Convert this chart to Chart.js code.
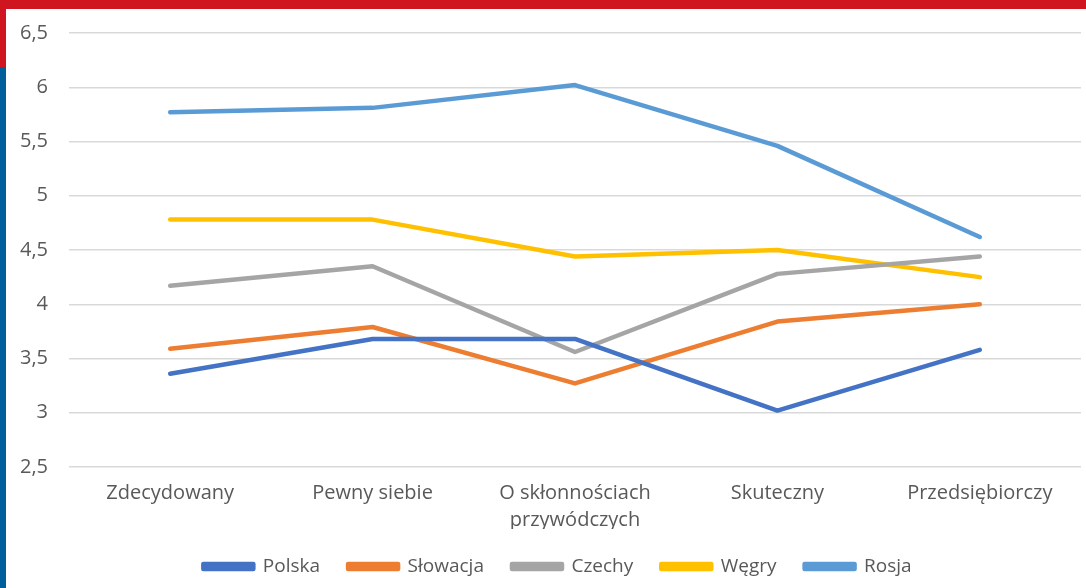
<!DOCTYPE html>
<html><head><meta charset="utf-8">
<script src="https://cdn.jsdelivr.net/npm/chart.js@4/dist/chart.umd.min.js"></script>
<style>
html,body{margin:0;padding:0;background:#fff;}
#wrap{position:relative;width:1086px;height:588px;overflow:hidden;}
#topbar{position:absolute;left:0;top:0;width:1086px;height:9px;background:#cf1520;}
#leftred{position:absolute;left:0;top:0;width:6px;height:67px;background:#cf1520;}
#leftblue{position:absolute;left:0;top:67px;width:6px;height:521px;background:#005f9b;}
canvas{position:absolute;left:0;top:0;}
</style></head>
<body><div id="wrap">
<canvas id="c" width="1086" height="588"></canvas>
<div id="topbar"></div><div id="leftred"></div><div id="leftblue"></div>
</div>
<script>
const categories = ["Zdecydowany", "Pewny siebie", ["O skłonnościach", "przywódczych"], "Skuteczny", "Przedsiębiorczy"];
const seriesNames = ["Polska", "Słowacja", "Czechy", "Węgry", "Rosja"];
const polska   = [3.36, 3.68, 3.68, 3.02, 3.58];
const slowacja = [3.59, 3.79, 3.27, 3.84, 4.00];
const czechy   = [4.17, 4.35, 3.56, 4.28, 4.44];
const wegry    = [4.78, 4.78, 4.44, 4.50, 4.25];
const rosja    = [5.77, 5.81, 6.02, 5.46, 4.62];
const colors = ["#4472C4", "#ED7D31", "#A5A5A5", "#FFC000", "#5B9BD5"];
const yMin = 2.5, yMax = 6.5, yStep = 0.5;

const allData = [polska, slowacja, czechy, wegry, rosja];
const datasets = allData.map((d, i) => ({
  label: seriesNames[i], data: d,
  borderColor: colors[i], backgroundColor: colors[i],
  borderWidth: 4.5, pointRadius: 0, tension: 0,
  borderCapStyle: 'round', borderJoinStyle: 'round'
}));

const shiftLegend = {
  id: 'shiftLegend',
  afterLayout(chart) { if (chart.legend) { chart.legend.left += 17; chart.legend.right += 17; } }
};

new Chart(document.getElementById('c'), {
  type: 'line',
  data: { labels: categories, datasets },
  plugins: [shiftLegend],
  options: {
    responsive: false, animation: false,
    layout: { padding: { top: 31, right: 5, bottom: 2, left: 0 } },
    scales: {
      x: {
        offset: true,
        afterFit: s => { s.height = 62; },
        grid: { display: false, drawTicks: false },
        border: { display: false },
        ticks: { color: '#595959', font: { family: 'Open Sans', size: 20, lineHeight: 1.35 }, padding: 13, maxRotation: 0, autoSkip: false }
      },
      y: {
        min: yMin, max: yMax,
        afterFit: s => { s.width = 69; },
        grid: { color: '#d9d9d9', lineWidth: 1.5, drawTicks: false },
        border: { display: false },
        ticks: { stepSize: yStep, color: '#595959', font: { family: 'Open Sans', size: 20 }, padding: 21,
          callback: v => String(v).replace('.', ',') }
      }
    },
    plugins: {
      legend: {
        position: 'bottom',
        labels: { color: '#595959', font: { family: 'Open Sans', size: 19 }, boxWidth: 50, boxHeight: 5, padding: 28 }
      },
      tooltip: { enabled: false }
    }
  }
});
</script>
</body></html>
